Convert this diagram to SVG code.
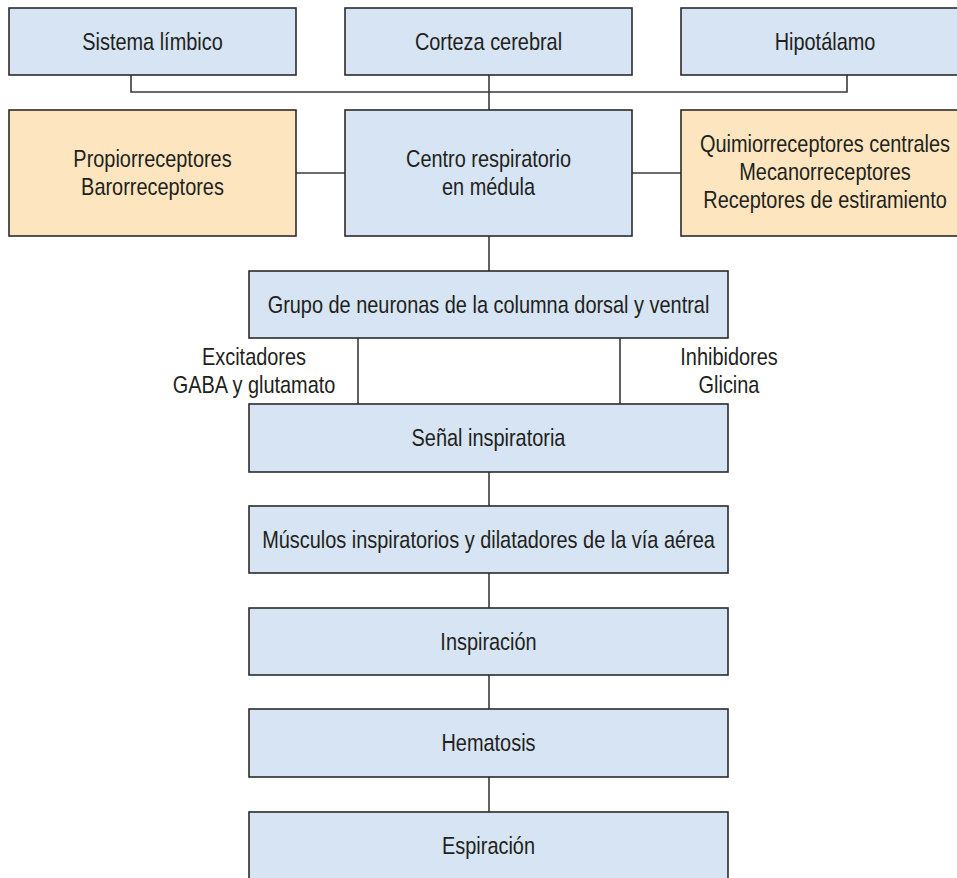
<svg xmlns="http://www.w3.org/2000/svg" width="957" height="878" viewBox="0 0 957 878">
<style>
.b{fill:#d6e4f3;stroke:#2b2b2b;stroke-width:1.6}
.o{fill:#fde6bf;stroke:#2b2b2b;stroke-width:1.6}
text{font-family:"Liberation Sans",Arial,sans-serif;font-size:24px;fill:#231f20;text-anchor:middle}
.c{fill:none;stroke:#3a3a3a;stroke-width:1.6}
</style>
<rect width="957" height="878" fill="#fff"/>
<g id="connectors">
<polyline class="c" points="131,75 131,92 847,92 847,75"/>
<line class="c" x1="489" y1="75" x2="489" y2="110"/>
<line class="c" x1="296" y1="173" x2="345" y2="173"/>
<line class="c" x1="632" y1="173" x2="681" y2="173"/>
<line class="c" x1="489" y1="236" x2="489" y2="271"/>
<line class="c" x1="358" y1="338" x2="358" y2="404"/>
<line class="c" x1="620" y1="338" x2="620" y2="404"/>
<line class="c" x1="489" y1="472" x2="489" y2="506"/>
<line class="c" x1="489" y1="573" x2="489" y2="608"/>
<line class="c" x1="489" y1="675" x2="489" y2="709"/>
<line class="c" x1="489" y1="777" x2="489" y2="812"/>
</g>
<g id="sistema"><rect class="b" x="9" y="8" width="287" height="67"/><text transform="translate(152.5,50) scale(0.83,1)">Sistema límbico</text></g>
<g id="corteza"><rect class="b" x="345" y="8" width="287" height="67"/><text transform="translate(488.5,50) scale(0.83,1)">Corteza cerebral</text></g>
<g id="hipotalamo"><rect class="b" x="681" y="8" width="288" height="67"/><text transform="translate(825,50) scale(0.83,1)">Hipotálamo</text></g>
<g id="propio"><rect class="o" x="9" y="110" width="287" height="126"/><text transform="translate(152.5,167) scale(0.83,1)">Propiorreceptores</text><text transform="translate(152.5,195) scale(0.83,1)">Barorreceptores</text></g>
<g id="centro"><rect class="b" x="345" y="110" width="287" height="126"/><text transform="translate(488.5,167) scale(0.83,1)">Centro respiratorio</text><text transform="translate(488.5,195) scale(0.83,1)">en médula</text></g>
<g id="quimio"><rect class="o" x="681" y="110" width="288" height="126"/><text transform="translate(825,152) scale(0.83,1)">Quimiorreceptores centrales</text><text transform="translate(825,180) scale(0.83,1)">Mecanorreceptores</text><text transform="translate(825,208) scale(0.83,1)">Receptores de estiramiento</text></g>
<g id="grupo"><rect class="b" x="249" y="271" width="479" height="67"/><text transform="translate(488.5,313) scale(0.83,1)">Grupo de neuronas de la columna dorsal y ventral</text></g>
<g id="excitadores"><text transform="translate(254,365) scale(0.83,1)">Excitadores</text><text transform="translate(254,393) scale(0.83,1)">GABA y glutamato</text></g>
<g id="inhibidores"><text transform="translate(729,365) scale(0.83,1)">Inhibidores</text><text transform="translate(729,393) scale(0.83,1)">Glicina</text></g>
<g id="senal"><rect class="b" x="249" y="404" width="479" height="68"/><text transform="translate(488.5,446) scale(0.83,1)">Señal inspiratoria</text></g>
<g id="musculos"><rect class="b" x="249" y="506" width="479" height="67"/><text transform="translate(488.5,548) scale(0.83,1)">Músculos inspiratorios y dilatadores de la vía aérea</text></g>
<g id="inspiracion"><rect class="b" x="249" y="608" width="479" height="67"/><text transform="translate(488.5,650) scale(0.83,1)">Inspiración</text></g>
<g id="hematosis"><rect class="b" x="249" y="709" width="479" height="68"/><text transform="translate(488.5,751) scale(0.83,1)">Hematosis</text></g>
<g id="espiracion"><rect class="b" x="249" y="812" width="479" height="70"/><text transform="translate(488.5,854) scale(0.83,1)">Espiración</text></g>
</svg>
